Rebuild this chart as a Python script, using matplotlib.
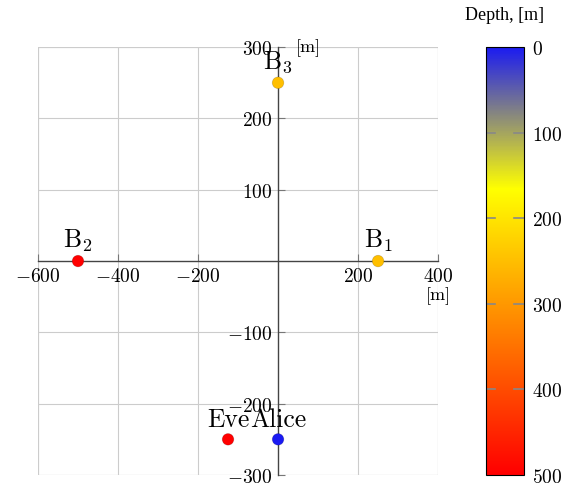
import matplotlib
matplotlib.use('Agg')
import matplotlib.pyplot as plt
from matplotlib.colors import LinearSegmentedColormap, Normalize
from matplotlib.ticker import FixedLocator, FuncFormatter

plt.rcParams['mathtext.fontset'] = 'cm'
plt.rcParams['font.family'] = 'serif'
plt.rcParams['font.serif'] = ['cmr10', 'DejaVu Serif']
plt.rcParams['axes.unicode_minus'] = False

# data
names = [r'$\mathrm{B}_3$', r'$\mathrm{B}_1$', r'$\mathrm{B}_2$', 'Eve', 'Alice']
xs = [0, 250, -500, -125, 0]
ys = [250, 0, 0, -250, -250]
depths = [250, 250, 500, 500, 0]

x_ticks = [-600, -400, -200, 200, 400]
y_ticks = [-300, -200, -100, 100, 200, 300]
cb_ticks = [0, 100, 200, 300, 400, 500]

cmap = LinearSegmentedColormap.from_list(
    'depth', [(0.0, (0.1, 0.1, 0.95)), (1 / 3, (1.0, 1.0, 0.0)), (1.0, (1.0, 0.0, 0.0))], N=512)
norm = Normalize(0, 500)

def tick_fmt(v, pos):
    return r'$%d$' % v

fig = plt.figure(figsize=(5.79, 4.89), dpi=100)
ax = fig.add_axes([0.0656, 0.0266, 0.691, 0.875])
ax.set_xlim(-600, 400)
ax.set_ylim(-300, 300)

for s in ['top', 'right']:
    ax.spines[s].set_visible(False)
for s in ['left', 'bottom']:
    ax.spines[s].set_position(('data', 0))
    ax.spines[s].set_color('#444444')
    ax.spines[s].set_linewidth(1.0)

ax.xaxis.set_major_locator(FixedLocator(x_ticks))
ax.yaxis.set_major_locator(FixedLocator(y_ticks))
ax.xaxis.set_major_formatter(FuncFormatter(tick_fmt))
ax.yaxis.set_major_formatter(FuncFormatter(tick_fmt))
ax.tick_params(direction='in', length=5, color='#777777', labelsize=14, pad=4)
ax.grid(True, color='#cccccc', linewidth=0.8)
ax.set_axisbelow(True)
# outer frame made of grid lines
for xv in [-600, 400]:
    ax.axvline(xv, color='#cccccc', linewidth=0.8, zorder=0)
for yv in [-300, 300]:
    ax.axhline(yv, color='#cccccc', linewidth=0.8, zorder=0)

ax.scatter(xs, ys, c=depths, cmap=cmap, norm=norm, s=70, zorder=5,
           edgecolors='#00000030', linewidths=0.5, clip_on=False)
for n, x, y in zip(names, xs, ys):
    ax.annotate(n, (x, y), xytext=(0, 6), textcoords='offset points',
                ha='center', va='bottom', fontsize=18.5)

ax.text(1.0, 0.442, '[m]', transform=ax.transAxes, ha='center', va='top', fontsize=13)
ax.text(0.675, 1.0, '[m]', transform=ax.transAxes, ha='center', va='center', fontsize=13)

cax = fig.add_axes([0.839, 0.0266, 0.0656, 0.875])
cb = fig.colorbar(plt.cm.ScalarMappable(norm=norm, cmap=cmap), cax=cax)
cb.solids.set_antialiased(False)
cb.solids.set_edgecolor('face')
cax.invert_yaxis()
cb.set_ticks(cb_ticks)
cb.ax.yaxis.set_major_formatter(FuncFormatter(tick_fmt))
cb.outline.set_linewidth(0.8)
cax.tick_params(length=0, labelsize=14, pad=6)
for t in cb_ticks[1:-1]:
    cax.plot([0, 0.25], [t, t], color='#888888', lw=1.2)
    cax.plot([0.75, 1], [t, t], color='#888888', lw=1.2)
cax.set_xlim(0, 1)
cax.set_title('Depth, [m]', fontsize=13, pad=20, family='Liberation Serif')

fig.savefig('out.png', dpi=100)
